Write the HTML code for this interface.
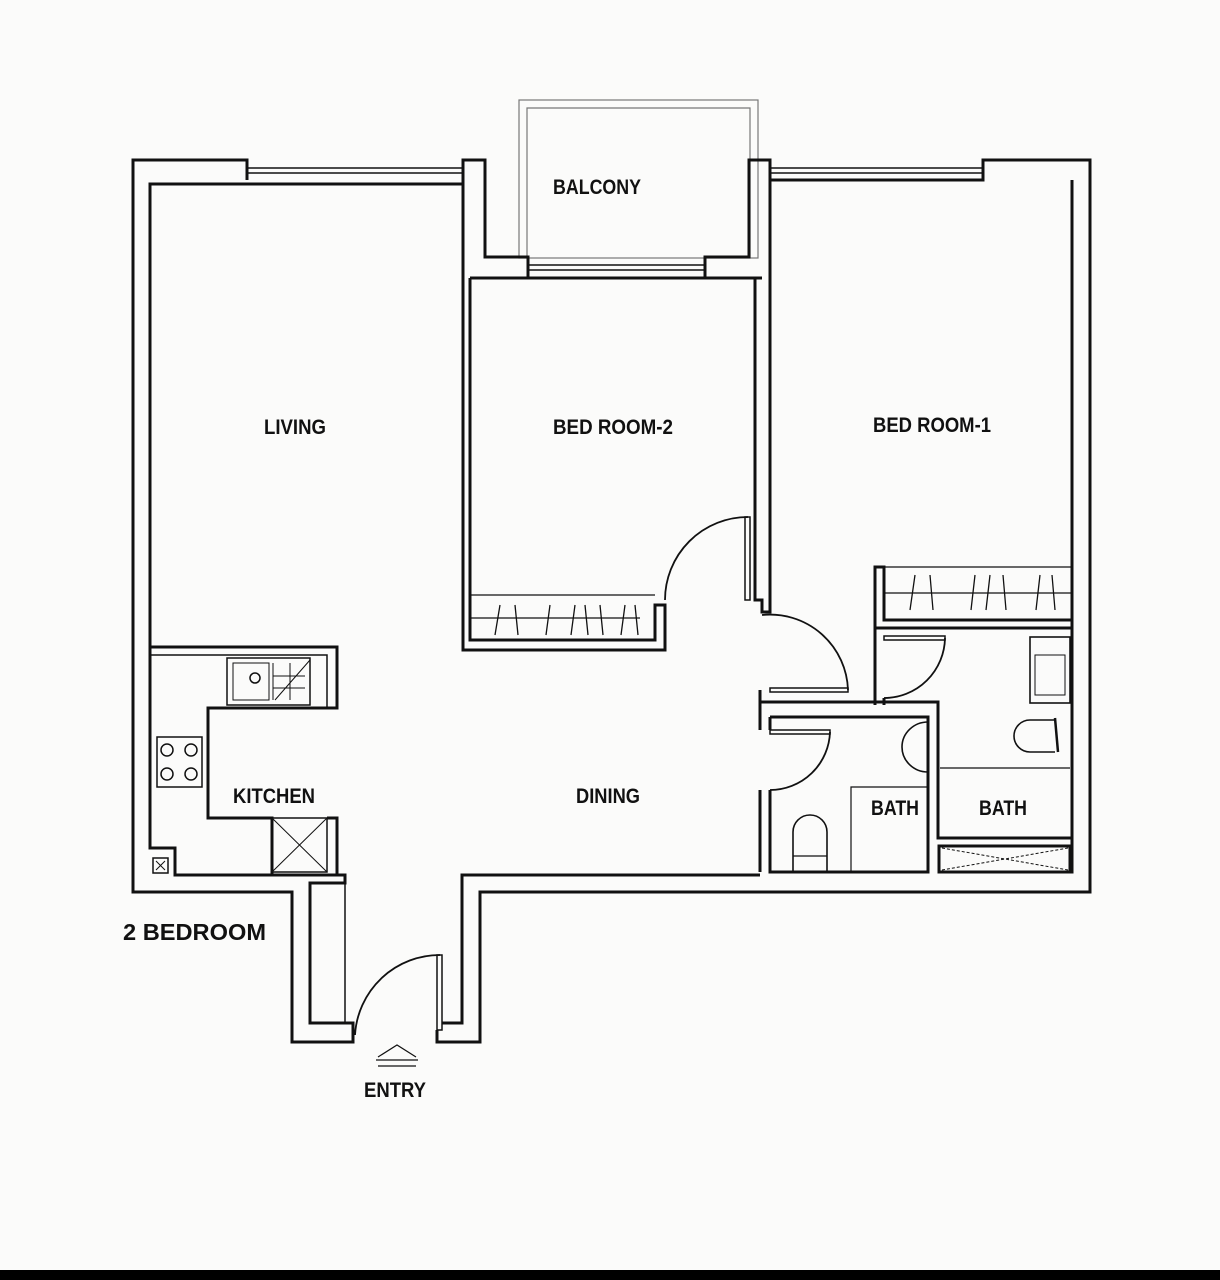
<!DOCTYPE html>
<html><head><meta charset="utf-8"><style>
html,body{margin:0;padding:0;background:#fbfbfa;}
svg{display:block}
text{font-family:"Liberation Sans",sans-serif;font-weight:bold;fill:#111}
</style></head><body>
<svg width="1220" height="1280" viewBox="0 0 1220 1280" xmlns="http://www.w3.org/2000/svg">
<rect width="1220" height="1280" fill="#fbfbfa"/>
<g fill="none" stroke="#111" stroke-width="3" stroke-linejoin="miter">
<rect x="519" y="100" width="239" height="158" stroke="#777" stroke-width="1.2"/>
<path d="M527,258 V108 H750 V258" stroke="#777" stroke-width="1.2"/>
<path d="M247,180 V160 H133 V892 H292 V1042 H353 V1023 H310 V883 H345 V875 H175 V848 H150 V184 H463 V160 H485 V257 H528 V278"/>
<path d="M437,1030 V1042 H480 V892 H1090 V160 H983 V180 H770 V160 H749 V257 H705 V278"/>
<path d="M1072,180 V872 H938"/>
<line x1="345" y1="883" x2="345" y2="1023" stroke-width="1.5"/>
<path d="M442,1023 H462 V875 H760"/>
<g stroke-width="1.6">
<line x1="247" y1="168" x2="463" y2="168"/><line x1="247" y1="173" x2="463" y2="173"/>
<line x1="770" y1="168" x2="983" y2="168"/><line x1="770" y1="173" x2="983" y2="173"/>
<line x1="528" y1="265" x2="705" y2="265"/><line x1="528" y1="270" x2="705" y2="270"/>
</g>
<path d="M470,278 H762 M470,278 V640 H655 V605 H665 V650 H463 V184"/>
<path d="M755,278 V600 H762 V612 H770 V180"/>
<rect x="745" y="517" width="5" height="83" stroke-width="1.5"/>
<path d="M748,517 A83,83 0 0 0 665,600" stroke-width="1.8"/>
<g stroke-width="1.3">
<line x1="470" y1="595" x2="655" y2="595"/><line x1="470" y1="618" x2="640" y2="618"/>
<path d="M500,605 l-5,30 M515,605 l3,30 M550,605 l-4,30 M575,605 l-4,30 M585,605 l3,30 M600,605 l3,30 M625,605 l-4,30 M635,605 l3,30"/>
</g>
<path d="M1072,620 H884 V567 H875 V628 H884 M875,628 V705 M884,628 H1072"/>
<g stroke-width="1.3">
<line x1="884" y1="567" x2="1072" y2="567"/><line x1="884" y1="593" x2="1072" y2="593"/>
<path d="M915,575 l-5,35 M930,575 l3,35 M975,575 l-4,35 M990,575 l-4,35 M1003,575 l3,35 M1040,575 l-4,35 M1052,575 l3,35"/>
</g>
<rect x="770" y="688" width="78" height="4" stroke-width="1.5"/>
<path d="M762,615 A78,78 0 0 1 848,690" stroke-width="1.8"/>
<path d="M760,690 V872 M770,717 V872 H928 V717 H770 M760,702 H938 V838 H1072 M884,705 V698"/>
<line x1="760" y1="730" x2="760" y2="790" stroke="#fbfbfa" stroke-width="4"/>
<line x1="770" y1="730" x2="770" y2="790" stroke="#fbfbfa" stroke-width="4"/>
<rect x="770" y="730" width="60" height="4" stroke-width="1.5"/>
<path d="M830,732 A60,60 0 0 1 770,790" stroke-width="1.8"/>
<rect x="884" y="636" width="61" height="4" stroke-width="1.5"/>
<path d="M945,638 A61,61 0 0 1 884,698" stroke-width="1.8"/>
<rect x="939" y="846" width="131" height="26"/>
<path d="M942,870 L1068,848 M942,848 L1068,870" stroke-width="1" stroke-dasharray="3,2"/>
<g stroke-width="1.6">
<rect x="1030" y="637" width="40" height="66"/>
<rect x="1035" y="655" width="30" height="40" stroke-width="1"/>
<path d="M1055,752 H1030 A16,16 0 0 1 1030,720 H1055"/>
<line x1="1055" y1="718" x2="1058" y2="752" stroke-width="2.5"/>
<line x1="940" y1="768" x2="1070" y2="768" stroke-width="1.2"/>
<path d="M928,722 A26,25 0 0 0 928,772" />
<path d="M851,872 V787 H928" stroke-width="1.2"/>
<path d="M793,872 V832 A17,17 0 0 1 827,832 V872"/>
<line x1="793" y1="856" x2="827" y2="856" stroke-width="1.2"/>
</g>
<path d="M150,647 H337 V708 H208 V818 H272 V875 M327,818 H337 V875"/>
<path d="M150,655 H327 V708" stroke-width="1.5"/>
<rect x="272" y="818" width="55" height="54" stroke-width="1.5"/>
<path d="M272,818 L327,872 M327,818 L272,872" stroke-width="1"/>
<rect x="227" y="658" width="83" height="47" stroke-width="1.5"/>
<rect x="233" y="663" width="36" height="37" stroke-width="1"/>
<circle cx="255" cy="678" r="5" stroke-width="1.5"/>
<path d="M273,663 V700 M273,676 H305 M273,688 H305 M290,663 V700 M275,700 L310,660" stroke-width="1"/>
<rect x="157" y="737" width="45" height="50" stroke-width="1.5"/>
<circle cx="167" cy="750" r="6" stroke-width="1.5"/><circle cx="191" cy="750" r="6" stroke-width="1.5"/>
<circle cx="167" cy="774" r="6" stroke-width="1.5"/><circle cx="191" cy="774" r="6" stroke-width="1.5"/>
<rect x="153" y="858" width="15" height="15" stroke-width="1.5"/>
<path d="M156,861 l9,9 M165,861 l-9,9" stroke-width="1"/>
<rect x="437" y="955" width="5" height="75" stroke-width="1.5"/>
<path d="M440,955 A85,85 0 0 0 355,1035" stroke-width="1.8"/>
<path d="M378,1057 L397,1045 L416,1057 M376,1060 H418 M378,1066 H416" stroke-width="1.2"/>
</g>
<g font-size="21">
<text x="295" y="434" text-anchor="middle" textLength="62" lengthAdjust="spacingAndGlyphs">LIVING</text>
<text x="613" y="434" text-anchor="middle" textLength="120" lengthAdjust="spacingAndGlyphs">BED ROOM-2</text>
<text x="932" y="432" text-anchor="middle" textLength="118" lengthAdjust="spacingAndGlyphs">BED ROOM-1</text>
<text x="597" y="194" text-anchor="middle" textLength="88" lengthAdjust="spacingAndGlyphs">BALCONY</text>
<text x="274" y="803" text-anchor="middle" textLength="82" lengthAdjust="spacingAndGlyphs">KITCHEN</text>
<text x="608" y="803" text-anchor="middle" textLength="64" lengthAdjust="spacingAndGlyphs">DINING</text>
<text x="895" y="815" text-anchor="middle" textLength="48" lengthAdjust="spacingAndGlyphs">BATH</text>
<text x="1003" y="815" text-anchor="middle" textLength="48" lengthAdjust="spacingAndGlyphs">BATH</text>
<text x="395" y="1097" text-anchor="middle" textLength="62" lengthAdjust="spacingAndGlyphs">ENTRY</text>
</g>
<text x="123" y="940" font-size="23" font-weight="normal" textLength="143" lengthAdjust="spacingAndGlyphs">2 BEDROOM</text>
<rect x="0" y="1270" width="1220" height="10" fill="#000"/>
</svg>
</body></html>
